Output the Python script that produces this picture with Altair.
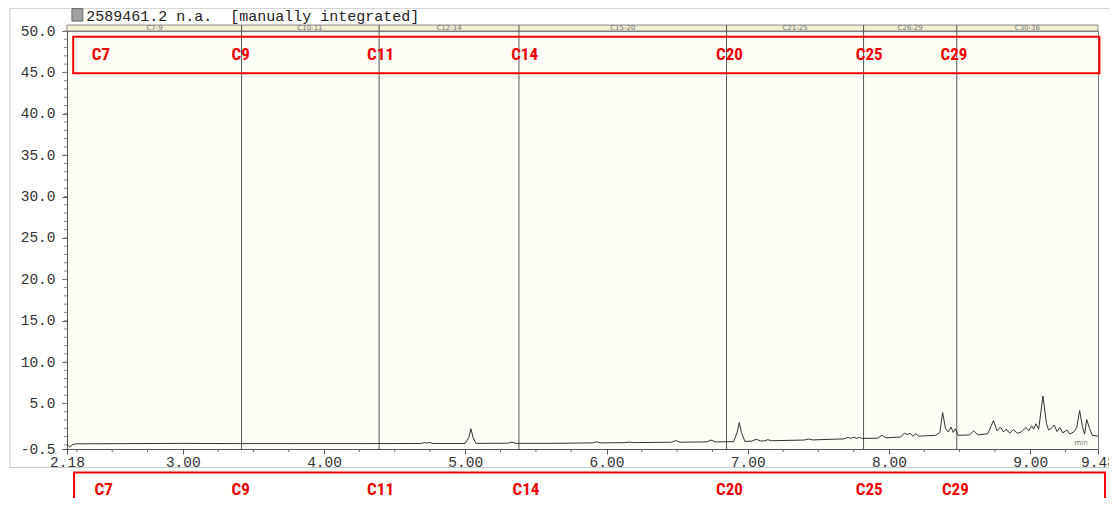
import altair as alt
import pandas as pd

# ---------------- data ----------------
times = [2.18, 2.19, 2.20, 2.215, 2.24, 2.60, 3.00, 3.40, 3.80, 4.30, 4.69, 4.71, 4.73, 4.75, 4.77,
         5.00, 5.025, 5.04, 5.055, 5.075, 5.30, 5.33, 5.36, 5.60, 5.90, 5.93, 5.96, 6.13, 6.16, 6.19,
         6.46, 6.49, 6.52, 6.71, 6.74, 6.77, 6.90, 6.925, 6.94, 6.955, 6.98, 7.03, 7.06, 7.09, 7.12,
         7.14, 7.17, 7.40, 7.43, 7.46, 7.68, 7.71, 7.73, 7.75, 7.77, 7.79, 7.81, 7.92, 7.95, 7.98,
         8.08, 8.11, 8.13, 8.15, 8.17, 8.19, 8.21, 8.33, 8.36, 8.38, 8.40, 8.42, 8.44, 8.455, 8.47,
         8.49, 8.57, 8.60, 8.63, 8.70, 8.74, 8.765, 8.79, 8.81, 8.83, 8.855, 8.88, 8.91, 8.94, 8.97,
         8.99, 9.01, 9.025, 9.04, 9.06, 9.09, 9.115, 9.13, 9.15, 9.17, 9.19, 9.21, 9.23, 9.26, 9.28,
         9.31, 9.33, 9.35, 9.37, 9.385, 9.40, 9.42, 9.44, 9.48]
signal = [0.10, -0.15, -0.25, 0.0, 0.12, 0.15, 0.18, 0.15, 0.15, 0.15, 0.17, 0.28, 0.22, 0.28, 0.17,
          0.17, 0.9, 1.95, 0.9, 0.18, 0.20, 0.32, 0.18, 0.18, 0.24, 0.36, 0.24, 0.27, 0.34, 0.27,
          0.32, 0.52, 0.32, 0.36, 0.58, 0.36, 0.38, 1.5, 2.7, 1.5, 0.42, 0.45, 0.68, 0.47, 0.48,
          0.62, 0.50, 0.58, 0.70, 0.60, 0.72, 0.90, 0.78, 0.92, 0.80, 0.90, 0.78, 0.80, 1.15, 0.85,
          0.95, 1.40, 1.25, 1.38, 1.05, 1.35, 1.05, 1.15, 1.50, 3.9, 2.0, 1.55, 2.15, 1.5, 1.95,
          1.15, 1.20, 1.70, 1.20, 1.35, 2.95, 1.7, 2.15, 1.55, 1.90, 1.40, 1.85, 1.40, 1.60, 2.10,
          1.70, 2.30, 1.90, 2.55, 1.90, 5.9, 2.6, 1.80, 2.00, 2.40, 1.60, 2.10, 1.45, 1.80, 1.30,
          1.60, 2.10, 4.15, 2.2, 1.30, 3.05, 2.0, 1.15, 1.05]

segment_bounds = [3.416, 4.39, 5.38, 6.85, 7.82, 8.48]
segment_mids = [2.80, 3.90, 4.885, 6.115, 7.335, 8.15, 8.98]
segment_labels = ["C7-9", "C10-11", "C12-14", "C15-20", "C21-25", "C26-29", "C30-36"]

carbon_labels = ["C7", "C9", "C11", "C14", "C20", "C25", "C29"]
carbon_pos_top = [2.42, 3.41, 4.40, 5.42, 6.87, 7.86, 8.46]
carbon_pos_bottom = [2.44, 3.41, 4.40, 5.43, 6.87, 7.86, 8.47]

x_label_values = [2.18, 3.0, 4.0, 5.0, 6.0, 7.0, 8.0, 9.0, 9.48]
x_minor_values = [2.25, 2.5, 2.75, 3.25, 3.5, 3.75, 4.25, 4.5, 4.75, 5.25, 5.5, 5.75,
                  6.25, 6.5, 6.75, 7.25, 7.5, 7.75, 8.25, 8.5, 8.75, 9.25]
y_label_values = [-0.5, 5.0, 10.0, 15.0, 20.0, 25.0, 30.0, 35.0, 40.0, 45.0, 50.0]
y_minor_values = [v for v in range(0, 51)]

title_text = "2589461.2 n.a.\u00a0 [manually integrated]"

XD = [2.18, 9.48]
YD = [-0.5, 50]
FONT = "DejaVu Sans, Liberation Sans, sans-serif"
WIDE = "Liberation Mono, DejaVu Sans Mono, monospace"
RED = "#f00000"
RED_FONT = "Liberation Sans Narrow, Roboto Condensed, Liberation Sans"

x_axis = alt.Axis(values=x_label_values, format=".2f", tickSize=5, labelFontSize=14.5,
                  labelFont=WIDE, labelColor="#333", domainColor="#555", tickColor="#555",
                  grid=False, labelPadding=1, labelFlush=False, labelOverlap=False,
                  labelBound=False, title=None)
y_axis = alt.Axis(values=y_label_values, tickSize=5, labelFontSize=14.5, labelFont=WIDE,
                  labelColor="#333", domainColor="#555", tickColor="#555", grid=False,
                  labelPadding=7, labelOverlap=False, labelFlush=False, title=None,
                  labelExpr="datum.value < 0 ? '-' + format(-datum.value, '.1f') : format(datum.value, '.1f')")


def xs(field):
    return alt.X(field, type="quantitative", title=None, axis=x_axis,
                 scale=alt.Scale(domain=XD, nice=False, zero=False))


def ys(field):
    return alt.Y(field, type="quantitative", title=None, axis=y_axis,
                 scale=alt.Scale(domain=YD, nice=False, zero=False))


trace = pd.DataFrame({"t": times, "v": signal})

line = alt.Chart(trace).mark_line(color="#333", strokeWidth=1).encode(x=xs("t"), y=ys("v"))

# minor ticks
xminor = alt.Chart(pd.DataFrame({"t": x_minor_values})).mark_rule(color="#666").encode(
    x=xs("t"), y=alt.value(418), y2=alt.value(421))
yminor = alt.Chart(pd.DataFrame({"v": y_minor_values})).mark_rule(color="#888").encode(
    y=ys("v"), x=alt.value(-3), x2=alt.value(0))

# header band
header = alt.Chart(pd.DataFrame({"a": [XD[0]], "b": [XD[1]], "c": [50.0], "d": [50.72]})).mark_rect(
    fill="#f4f0d6", stroke="#888", strokeWidth=1).encode(
    x=xs("a"), x2="b", y=ys("c"), y2="d")

bounds = alt.Chart(pd.DataFrame({"t": segment_bounds, "lo": [-0.5] * 6, "hi": [50.72] * 6})).mark_rule(
    color="#555", strokeWidth=1).encode(x=xs("t"), y=ys("lo"), y2="hi")

header_txt = alt.Chart(pd.DataFrame({"t": segment_mids, "lab": segment_labels, "v": [50.36] * 7})).mark_text(
    fontSize=7, color="#777", font=FONT, baseline="middle").encode(x=xs("t"), y=ys("v"), text="lab")

# red boxes and labels
boxes = alt.Chart(pd.DataFrame({"a": [2.224, 2.23], "b": [9.49, 9.53], "c": [49.3, -3.33], "d": [44.9, -9.0]})).mark_rect(
    fill="transparent", stroke=RED, strokeWidth=2).encode(x=xs("a"), x2="b", y=ys("c"), y2="d")

red_top = alt.Chart(pd.DataFrame({"t": carbon_pos_top, "lab": carbon_labels, "v": [47.1] * 7})).mark_text(
    fontSize=17, fontWeight="bold", color=RED, font=RED_FONT, baseline="middle").encode(
    x=xs("t"), y=ys("v"), text="lab")
red_bot = alt.Chart(pd.DataFrame({"t": carbon_pos_bottom, "lab": carbon_labels, "v": [-5.45] * 7})).mark_text(
    fontSize=17, fontWeight="bold", color=RED, font=RED_FONT, baseline="middle").encode(
    x=xs("t"), y=ys("v"), text="lab")

# title, icon, min label
title = alt.Chart(pd.DataFrame({"t": [2.316], "v": [51.8], "lab": [title_text]})).mark_text(
    fontSize=15, color="#222", font=WIDE, align="left", baseline="middle").encode(
    x=xs("t"), y=ys("v"), text="lab")
icon = alt.Chart(pd.DataFrame({"a": [2.215], "b": [2.292], "c": [51.2], "d": [52.7]})).mark_rect(
    fill="#a0a0a0", stroke="#666", strokeWidth=1).encode(x=xs("a"), x2="b", y=ys("c"), y2="d")
minlab = alt.Chart(pd.DataFrame({"t": [9.36], "v": [0.2], "lab": ["min"]})).mark_text(
    fontSize=7, color="#777", font=FONT, baseline="middle").encode(x=xs("t"), y=ys("v"), text="lab")

# outer frame
frame = alt.Chart(pd.DataFrame({"a": [1.776], "b": [9.70], "c": [52.75], "d": [-2.73]})).mark_rect(
    fill="transparent", stroke="#c8c8c8", strokeWidth=1).encode(x=xs("a"), x2="b", y=ys("c"), y2="d")

chart = alt.layer(frame, header, bounds, header_txt, xminor, yminor, line, minlab,
                  boxes, red_top, red_bot, icon, title).properties(
    width=1031, height=418,
    autosize=alt.AutoSizeParams(type="none"),
    padding={"left": 59, "top": 23, "right": 11, "bottom": 49},
    background="white",
).configure_view(fill="#fdfdf6", stroke="#777", strokeWidth=1)

chart.save("out.html", embed_options={"renderer": "svg", "actions": False})
